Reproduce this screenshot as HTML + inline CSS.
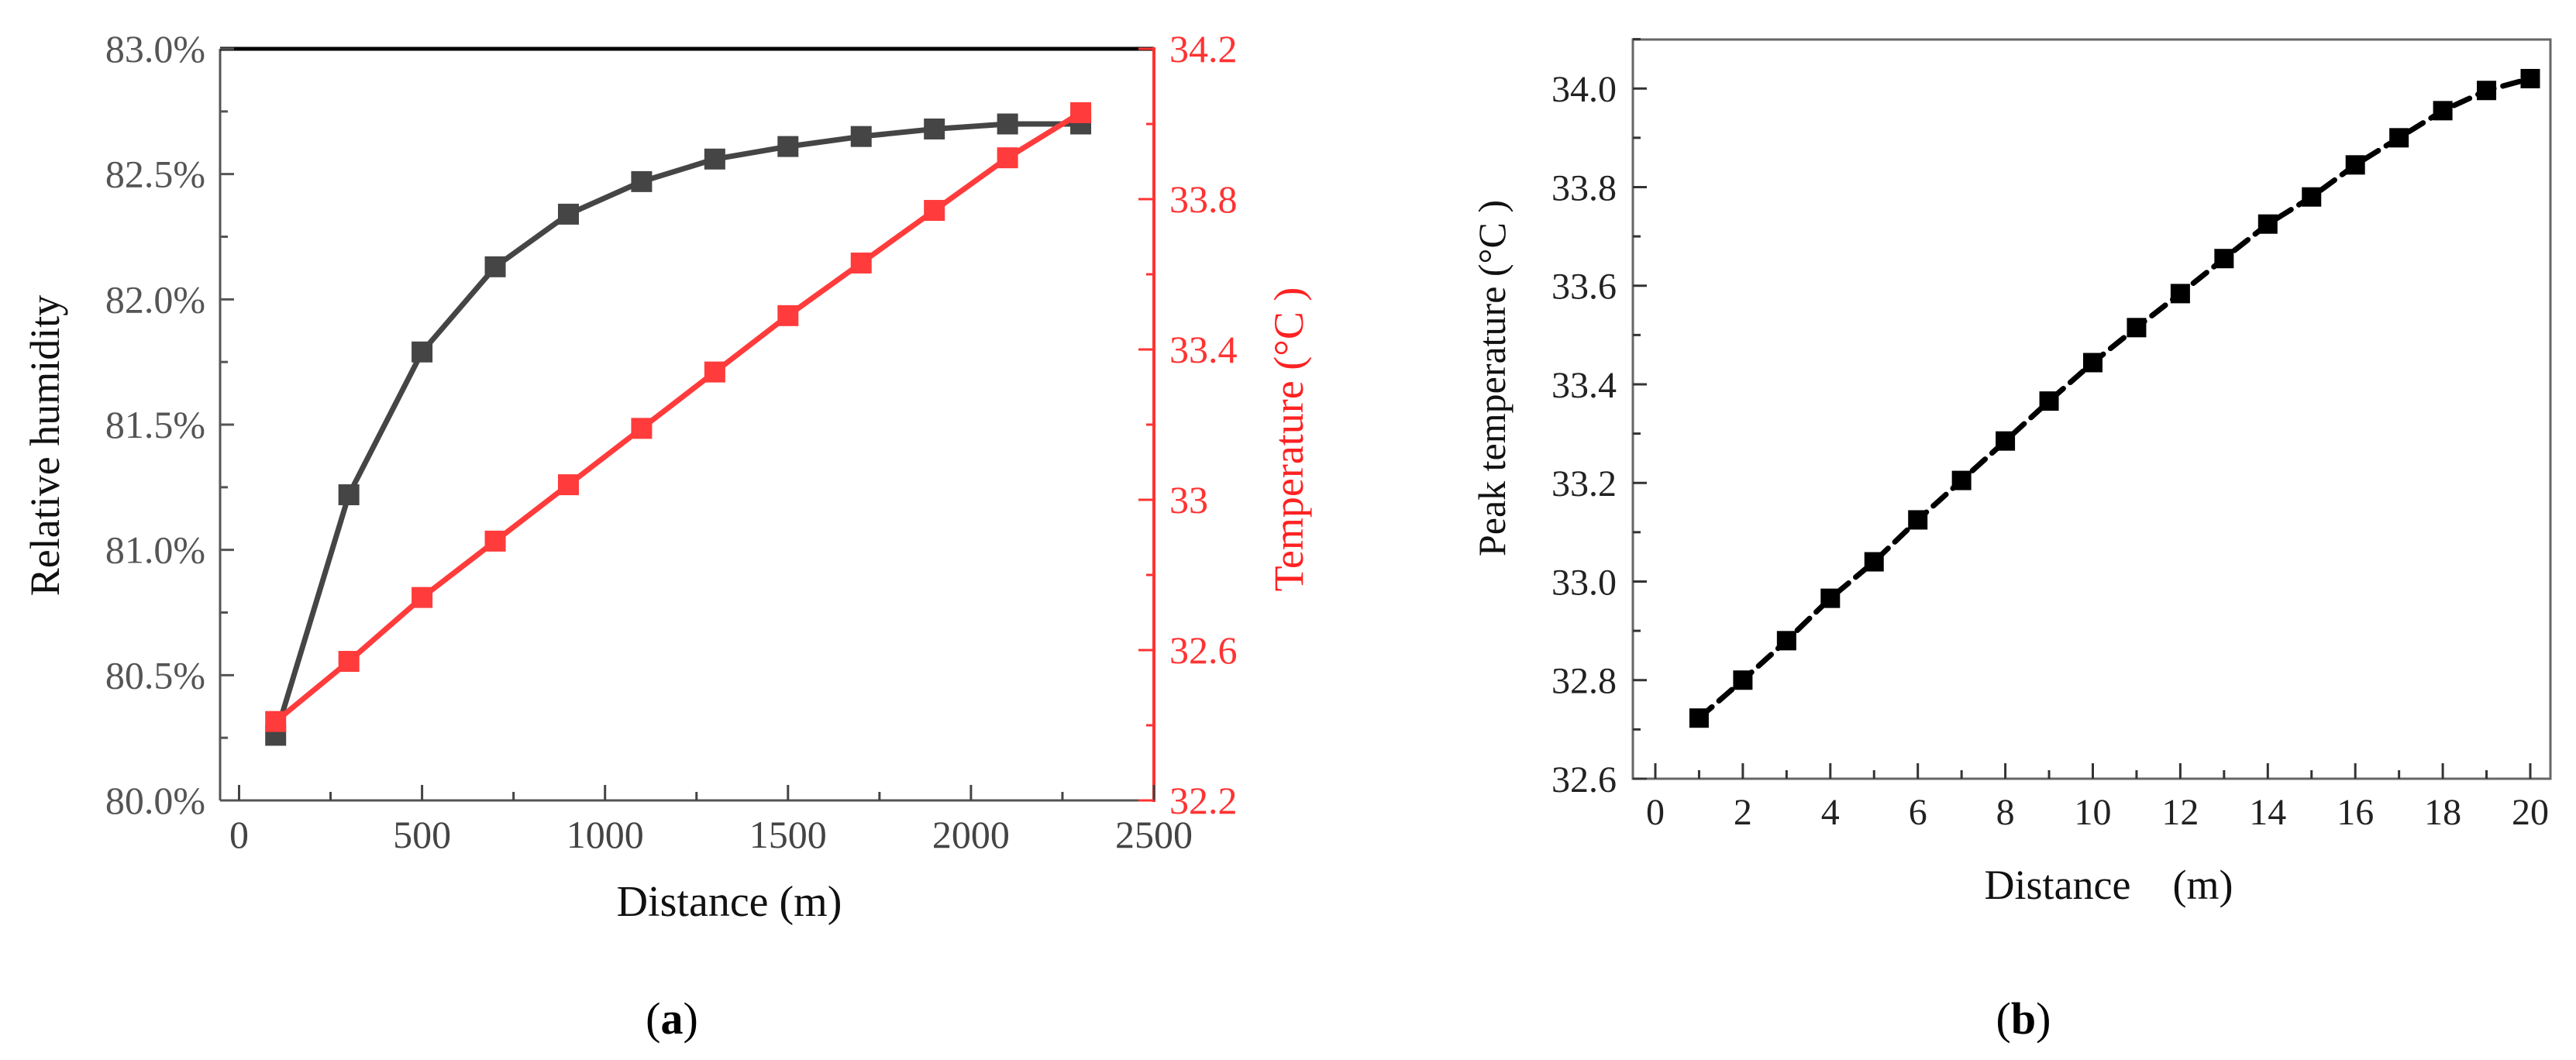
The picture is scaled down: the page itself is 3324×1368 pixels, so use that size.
<!DOCTYPE html>
<html><head><meta charset="utf-8"><style>
html,body{margin:0;padding:0;background:#fff;}
svg{display:block;font-family:"Liberation Serif",serif;}
</style></head><body>
<svg id="fig" width="3324" height="1368" viewBox="0 0 3324 1368" xmlns="http://www.w3.org/2000/svg"></svg>
<script>
// Panel (a) data
const distA = [100,300,500,700,900,1100,1300,1500,1700,1900,2100,2300];
const humidity = [80.26,81.22,81.79,82.13,82.34,82.47,82.56,82.61,82.65,82.68,82.70,82.70];
const tempA = [32.41,32.57,32.74,32.89,33.04,33.19,33.34,33.49,33.63,33.77,33.91,34.03];
const xTicksA = [0,500,1000,1500,2000,2500];
const yTicksHum = [80.0,80.5,81.0,81.5,82.0,82.5,83.0];
const yTicksTemp = [32.2,32.6,33.0,33.4,33.8,34.2];
const yTickLabelsTemp = ["32.2","32.6","33","33.4","33.8","34.2"];
// Panel (b) data
const distB = [1,2,3,4,5,6,7,8,9,10,11,12,13,14,15,16,17,18,19,20];
const peakTemp = [32.723,32.80,32.88,32.966,33.04,33.125,33.205,33.285,33.366,33.444,33.515,33.584,33.655,33.725,33.78,33.845,33.90,33.955,33.996,34.02];
const xTicksB = [0,2,4,6,8,10,12,14,16,18,20];
const yTicksB = [32.6,32.8,33.0,33.2,33.4,33.6,33.8,34.0];

const svg = document.getElementById('fig');
const NS = 'http://www.w3.org/2000/svg';
function mk(tag, attrs, parent){const e=document.createElementNS(NS,tag);for(const k in attrs)e.setAttribute(k,attrs[k]);(parent||svg).appendChild(e);return e;}
function txt(s, attrs){const e=mk('text',attrs);e.textContent=s;return e;}

// ===== Panel A =====
const aL=284,aR=1489,aT=63,aB=1033;
const xA=v=>308.5+(v-0)*(1489-308.5)/2500;
const yH=v=>aB-(v-80)*(aB-aT)/3;
const yT=v=>aB-(v-32.2)*(aB-aT)/2;
const gA=mk('g',{});


// axes
let l;
l=mk('line',{x1:aL,y1:aB,x2:aR,y2:aB,stroke:'#555',"stroke-width":3},gA);

l=mk('line',{x1:aL,y1:aT,x2:aL,y2:aB,stroke:'#555',"stroke-width":3},gA);

l=mk('line',{x1:aL,y1:aT,x2:aR,y2:aT,stroke:'#000',"stroke-width":5},gA);

l=mk('line',{x1:aR,y1:aT-2,x2:aR,y2:aB+2,stroke:'#ff3333',"stroke-width":4},gA);

// x ticks
for(let i=0;i<xTicksA.length;i++){
  const v=xTicksA[i];
  mk('line',{x1:xA(v),y1:aB,x2:xA(v),y2:aB-20,stroke:'#444',"stroke-width":3},gA);
  if(i<xTicksA.length-1) mk('line',{x1:xA(v+250),y1:aB,x2:xA(v+250),y2:aB-11,stroke:'#444',"stroke-width":3},gA);
  const t=txt(String(v),{x:xA(v),y:1094,"font-size":50,"text-anchor":"middle",fill:'#444'});
  
}
// left ticks
for(let i=0;i<yTicksHum.length;i++){
  const v=yTicksHum[i];
  mk('line',{x1:aL,y1:yH(v),x2:aL+18,y2:yH(v),stroke:'#555',"stroke-width":3},gA);
  if(i<yTicksHum.length-1) mk('line',{x1:aL,y1:yH(v+0.25),x2:aL+10,y2:yH(v+0.25),stroke:'#555',"stroke-width":3},gA);
  const t=txt(v.toFixed(1)+'%',{x:265,y:yH(v)+17,"font-size":50,"text-anchor":"end",fill:'#555'});
  
}
// right ticks
for(let i=0;i<yTicksTemp.length;i++){
  const v=yTicksTemp[i];
  mk('line',{x1:aR,y1:yT(v),x2:aR-20,y2:yT(v),stroke:'#ff3333',"stroke-width":3},gA);
  if(i<yTicksTemp.length-1) mk('line',{x1:aR,y1:yT(v+0.2),x2:aR-10,y2:yT(v+0.2),stroke:'#ff3333',"stroke-width":3},gA);
  const t=txt(yTickLabelsTemp[i],{x:1509,y:yT(v)+17,"font-size":50,"text-anchor":"start",fill:'#ff3333'});
  
}
// humidity series
let pts=distA.map((d,i)=>xA(d)+','+yH(humidity[i])).join(' ');
l=mk('polyline',{points:pts,fill:'none',stroke:'#454545',"stroke-width":7,"stroke-linejoin":"round"},gA);

distA.forEach((d,i)=>{
  const r=mk('rect',{x:xA(d)-13.5,y:yH(humidity[i])-13.5,width:27,height:27,fill:'#454545'},gA);
  
});
// temperature series
pts=distA.map((d,i)=>xA(d)+','+yT(tempA[i])).join(' ');
l=mk('polyline',{points:pts,fill:'none',stroke:'#ff3b3b',"stroke-width":7,"stroke-linejoin":"round"},gA);

distA.forEach((d,i)=>{
  const r=mk('rect',{x:xA(d)-13.5,y:yT(tempA[i])-13.5,width:27,height:27,fill:'#ff3b3b'},gA);
  
});
// labels
let t=txt('Relative humidity',{x:0,y:0,"font-size":54,"text-anchor":"middle",fill:'#111',transform:'translate(76,575) rotate(-90)'});

t=txt('Temperature (°C )',{x:0,y:0,"font-size":54,"text-anchor":"middle",fill:'#ff2222',transform:'translate(1681,567) rotate(-90)'});

t=txt('Distance (m)',{x:941,y:1182,"font-size":56,"text-anchor":"middle",fill:'#111'});

t=mk('text',{x:867,y:1334,"font-size":58,"text-anchor":"middle",fill:'#000'});
t.innerHTML='(<tspan font-weight="bold">a</tspan>)';


// ===== Panel B =====
const bL=2107,bR=3291,bT=51,bB=1005;
const xB=v=>2136+v*(3265-2136)/20;
const yB=v=>bB-(v-32.6)*(bB-114.2)/1.4;
const gB=mk('g',{});


l=mk('rect',{x:bL,y:bT,width:bR-bL,height:bB-bT,fill:'none',stroke:'#666',"stroke-width":3},gB);

for(let i=0;i<xTicksB.length;i++){
  const v=xTicksB[i];
  mk('line',{x1:xB(v),y1:bB,x2:xB(v),y2:bB-20,stroke:'#333',"stroke-width":3},gB);
  if(i<xTicksB.length-1) mk('line',{x1:xB(v+1),y1:bB,x2:xB(v+1),y2:bB-11,stroke:'#333',"stroke-width":3},gB);
  const tt=txt(String(v),{x:xB(v),y:1064,"font-size":48,"text-anchor":"middle",fill:'#222'});
  
}
for(let i=0;i<yTicksB.length;i++){
  const v=yTicksB[i];
  mk('line',{x1:bL,y1:yB(v),x2:bL+18,y2:yB(v),stroke:'#333',"stroke-width":3},gB);
  mk('line',{x1:bL,y1:yB(v+0.1),x2:bL+10,y2:yB(v+0.1),stroke:'#333',"stroke-width":3},gB);
  const tt=txt(v.toFixed(1),{x:2086,y:yB(v)+17,"font-size":48,"text-anchor":"end",fill:'#222'});
  
}
pts=distB.map((d,i)=>xB(d)+','+yB(peakTemp[i])).join(' ');
l=mk('polyline',{points:pts,fill:'none',stroke:'#000',"stroke-width":7,"stroke-dasharray":"22 12","stroke-linecap":"round"},gB);

distB.forEach((d,i)=>{
  const r=mk('rect',{x:xB(d)-12.5,y:yB(peakTemp[i])-12.5,width:25,height:25,fill:'#000'},gB);
  
});
t=txt('Peak temperature (°C )',{x:0,y:0,"font-size":50,"text-anchor":"middle",fill:'#111',transform:'translate(1942,488) rotate(-90)'});

t=txt('Distance　(m)',{x:2721,y:1160,"font-size":54,"text-anchor":"middle",fill:'#111'});

t=mk('text',{x:2611,y:1334,"font-size":58,"text-anchor":"middle",fill:'#000'});
t.innerHTML='(<tspan font-weight="bold">b</tspan>)';

</script>
</body></html>
